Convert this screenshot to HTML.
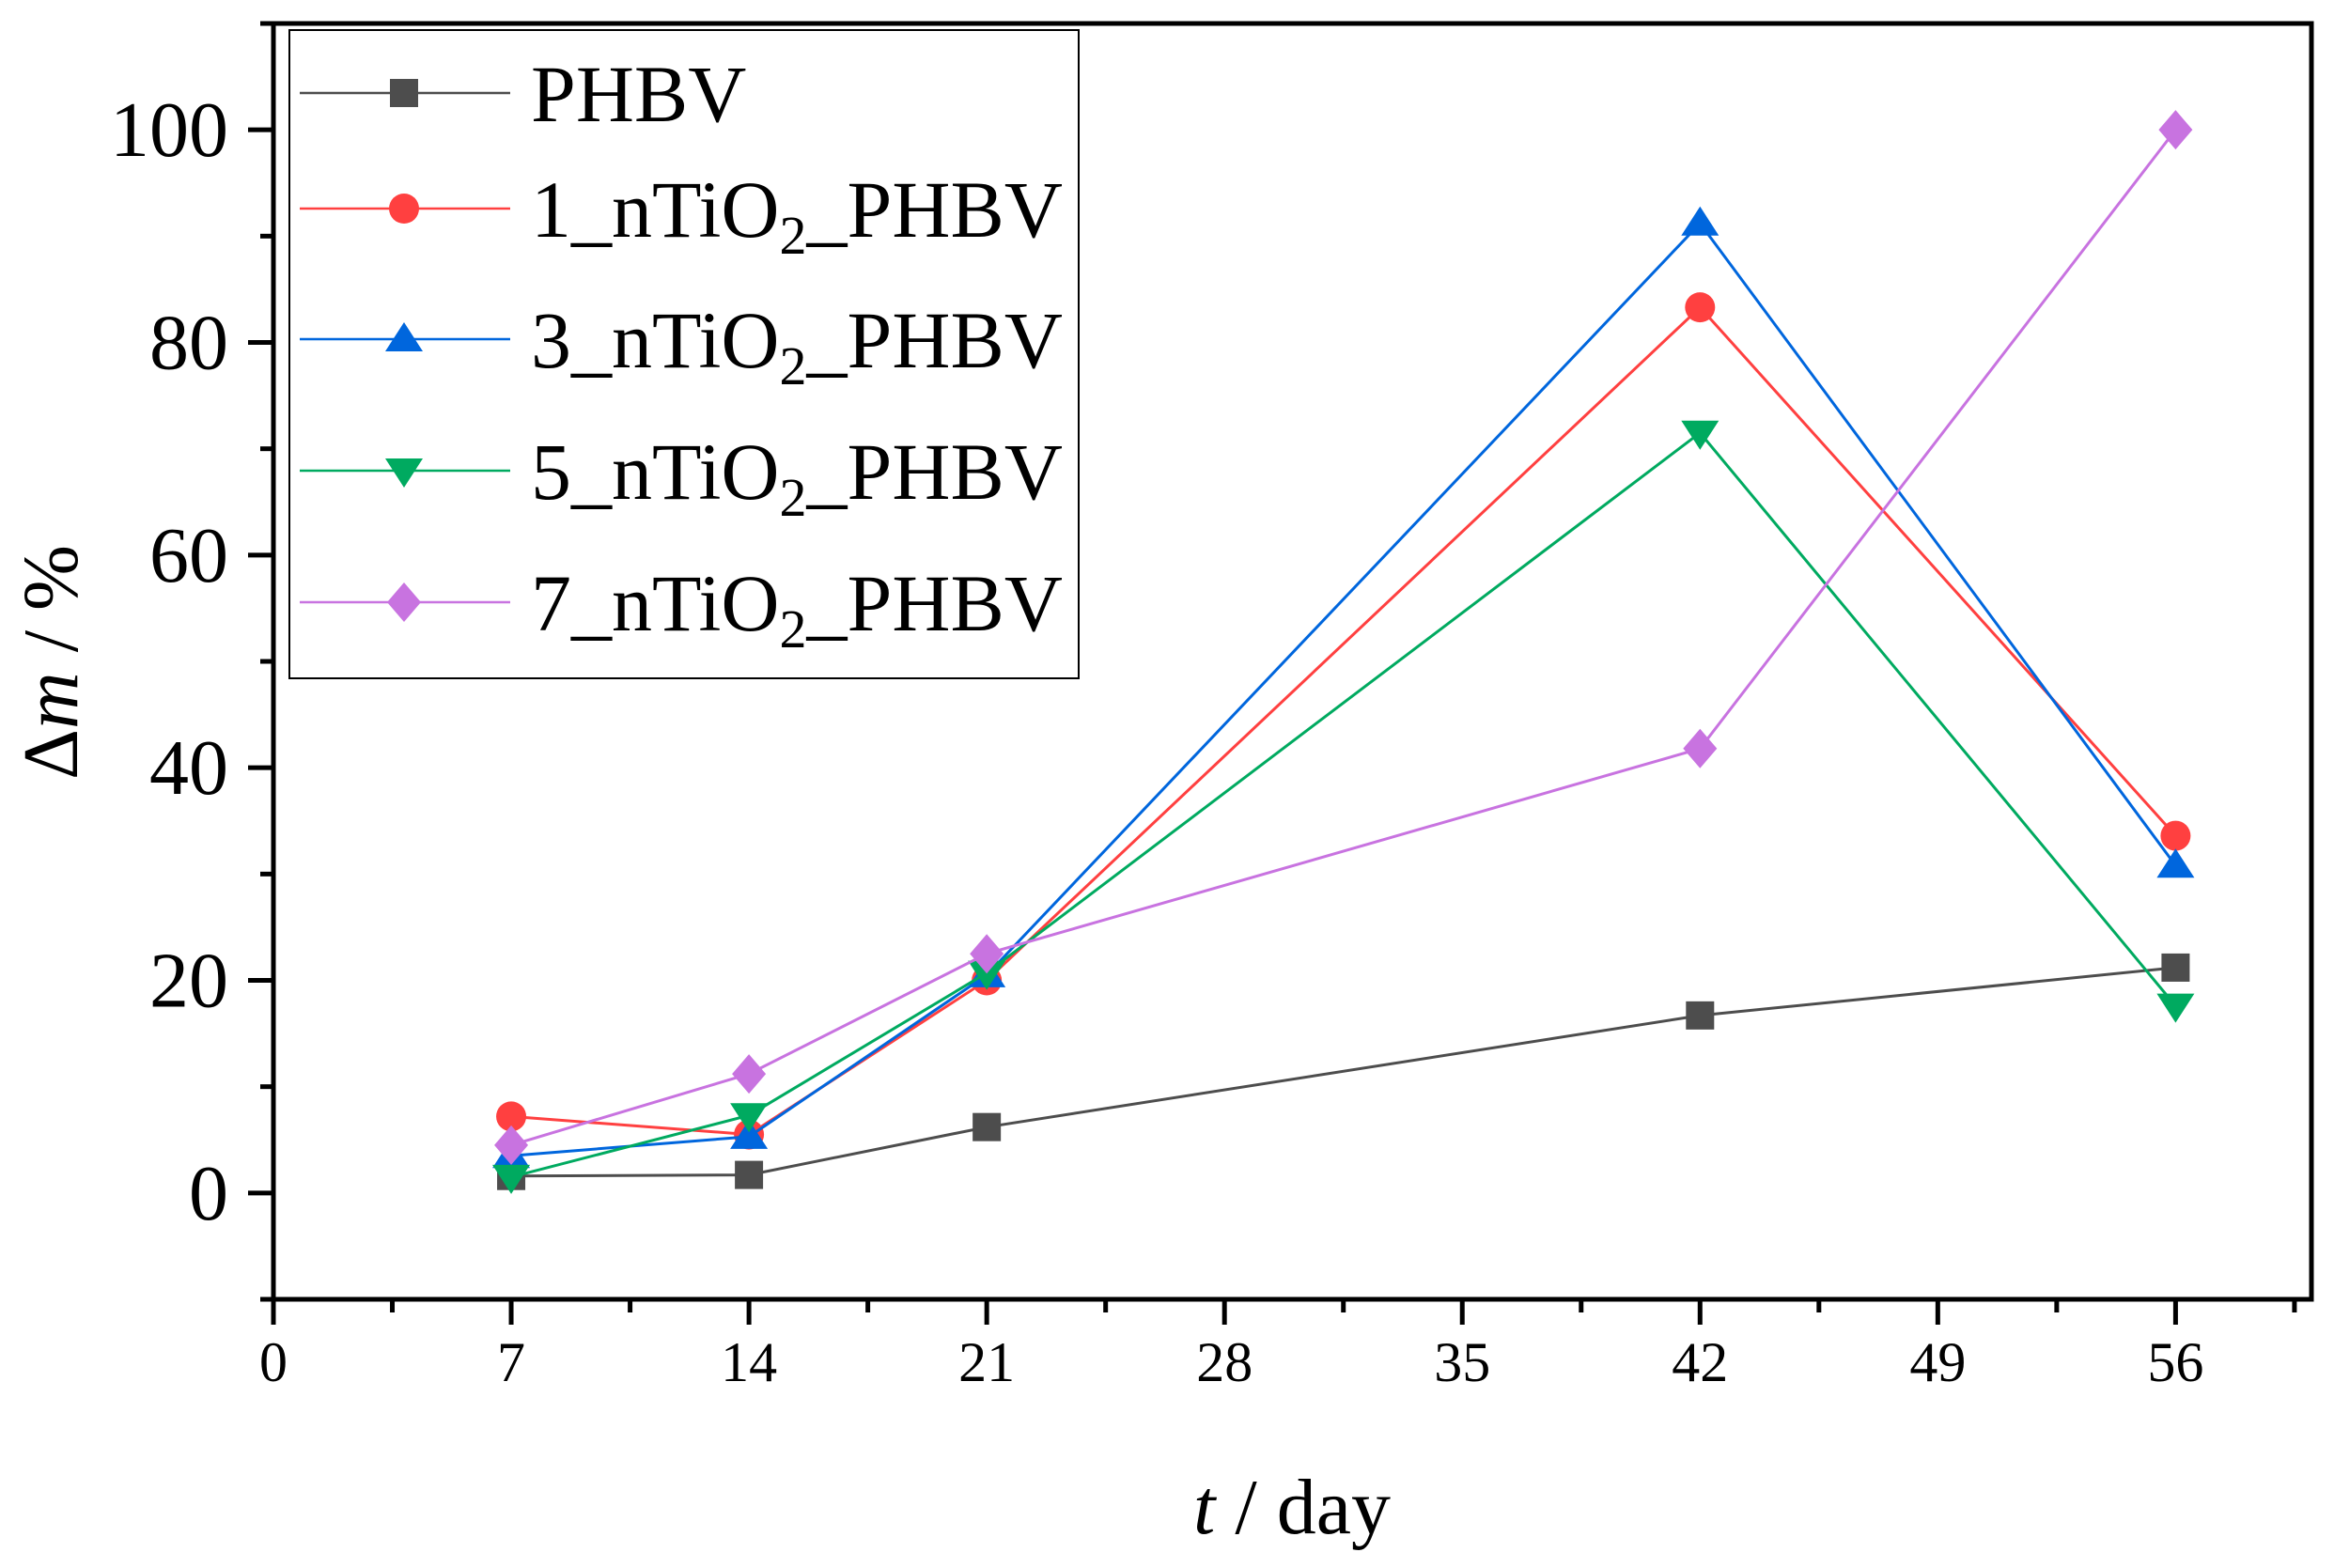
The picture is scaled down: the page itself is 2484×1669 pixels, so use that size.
<!DOCTYPE html>
<html><head><meta charset="utf-8"><style>
html,body{margin:0;padding:0;background:#fff;}
svg{display:block;font-family:"Liberation Serif",serif;}
</style></head><body>
<svg id="chart" width="2484" height="1669" viewBox="0 0 2484 1669" xmlns="http://www.w3.org/2000/svg">
<g id="axes"></g>
<g id="series"></g>
<g id="legend"></g>
<text x="1375" y="1632" font-size="84" text-anchor="middle"><tspan font-style="italic">t</tspan> / day</text>
<text transform="translate(82,705) rotate(-90)" font-size="84" text-anchor="middle">Δ<tspan font-style="italic">m</tspan> / %</text>
</svg>
<script>
const days = [7, 14, 21, 42, 56];
const seriesNames = ["PHBV", "1", "3", "5", "7"];
const phbv = [1.6, 1.7, 6.2, 16.7, 21.2];
const ti1 = [7.2, 5.5, 20.0, 83.3, 33.6];
const ti3 = [3.5, 5.3, 20.5, 91.2, 30.8];
const ti5 = [1.5, 7.3, 20.7, 71.5, 17.6];
const ti7 = [4.5, 11.2, 22.5, 41.8, 100.0];
const xTicks = [0, 7, 14, 21, 28, 35, 42, 49, 56];
const yTicks = [0, 20, 40, 60, 80, 100];

const NS = "http://www.w3.org/2000/svg";
const L = 291, R = 2460, T = 25, B = 1383;
const xMin = 0, xMax = 60, yMin = -10, yMax = 110;
function xs(v){ return L + (v - xMin) / (xMax - xMin) * (R - L); }
function ys(v){ return B - (v - yMin) / (yMax - yMin) * (B - T); }
function mk(tag, attrs, parent){
  const e = document.createElementNS(NS, tag);
  for (const k in attrs) e.setAttribute(k, attrs[k]);
  parent.appendChild(e); return e;
}
const axes = document.getElementById('axes');
let e;
e = mk('rect', {x:L, y:T, width:R-L, height:B-T, fill:'none', stroke:'#000', 'stroke-width':5}, axes);


// x ticks
for (let v = 0; v <= 59.5; v += 3.5) {
  const major = Math.abs(v / 7 - Math.round(v / 7)) < 1e-6;
  e = mk('line', {x1:xs(v), x2:xs(v), y1:B, y2:B + (major ? 27 : 14), stroke:'#000', 'stroke-width':5}, axes);
  
  
}
xTicks.forEach(v => {
  e = mk('text', {x:xs(v), y:1470, 'font-size':60, 'text-anchor':'middle'}, axes);
  e.textContent = v;
  
  
});
// y ticks
for (let v = -10; v <= 110; v += 10) {
  const major = v % 20 === 0;
  e = mk('line', {x1:L, x2:L - (major ? 27 : 14), y1:ys(v), y2:ys(v), stroke:'#000', 'stroke-width':5}, axes);
  
  
}
yTicks.forEach(v => {
  e = mk('text', {x:243, y:ys(v) + 28, 'font-size':84, 'text-anchor':'end'}, axes);
  e.textContent = v;
  
  
});

function marker(shape, cx, cy, color, parent){
  let m;
  if (shape === 'square') m = mk('rect', {x:cx-15, y:cy-15, width:30, height:30, fill:color}, parent);
  else if (shape === 'circle') m = mk('ellipse', {cx:cx, cy:cy, rx:16, ry:16, fill:color}, parent);
  else if (shape === 'up') m = mk('polygon', {points:`${cx},${cy-18} ${cx+20},${cy+13} ${cx-20},${cy+13}`, fill:color}, parent);
  else if (shape === 'down') m = mk('polygon', {points:`${cx},${cy+18} ${cx+20},${cy-13} ${cx-20},${cy-13}`, fill:color}, parent);
  else m = mk('polygon', {points:`${cx},${cy-21} ${cx+18},${cy} ${cx},${cy+21} ${cx-18},${cy}`, fill:color}, parent);
  return m;
}
const defs = [
  {vals:phbv, color:'#4d4d4d', shape:'square', name:'phbv', label:'PHBV'},
  {vals:ti1, color:'#ff4040', shape:'circle', name:'1-ntio2-phbv', label:'1'},
  {vals:ti3, color:'#0066dd', shape:'up', name:'3-ntio2-phbv', label:'3'},
  {vals:ti5, color:'#00aa60', shape:'down', name:'5-ntio2-phbv', label:'5'},
  {vals:ti7, color:'#c873e0', shape:'diamond', name:'7-ntio2-phbv', label:'7'}
];
const sg = document.getElementById('series');
defs.forEach(d => {
  const g = mk('g', {}, sg);
  
  
  const pts = days.map((x, i) => xs(x) + ',' + ys(d.vals[i])).join(' ');
  e = mk('polyline', {points:pts, fill:'none', stroke:d.color, 'stroke-width':3}, g);
  
  
  days.forEach((x, i) => {
    e = marker(d.shape, xs(x), ys(d.vals[i]), d.color, g);
    
    
  });
});
// legend
const lg = document.getElementById('legend');
e = mk('rect', {x:308, y:32, width:840, height:690, fill:'#fff', stroke:'#000', 'stroke-width':2}, lg);


const ly = [99, 222, 361, 501, 641];
defs.forEach((d, i) => {
  const g = mk('g', {}, lg);
  
  
  mk('line', {x1:319, x2:543, y1:ly[i], y2:ly[i], stroke:d.color, 'stroke-width':2.5}, g);
  marker(d.shape, 430, ly[i], d.color, g);
  const t = mk('text', {x:565, y:ly[i] + 30, 'font-size':86}, g);
  if (d.label === 'PHBV') t.textContent = 'PHBV';
  else t.innerHTML = d.label + '_nTiO<tspan font-size="58" dy="18">2</tspan><tspan dy="-18">_PHBV</tspan>';
});
</script>
</body></html>
